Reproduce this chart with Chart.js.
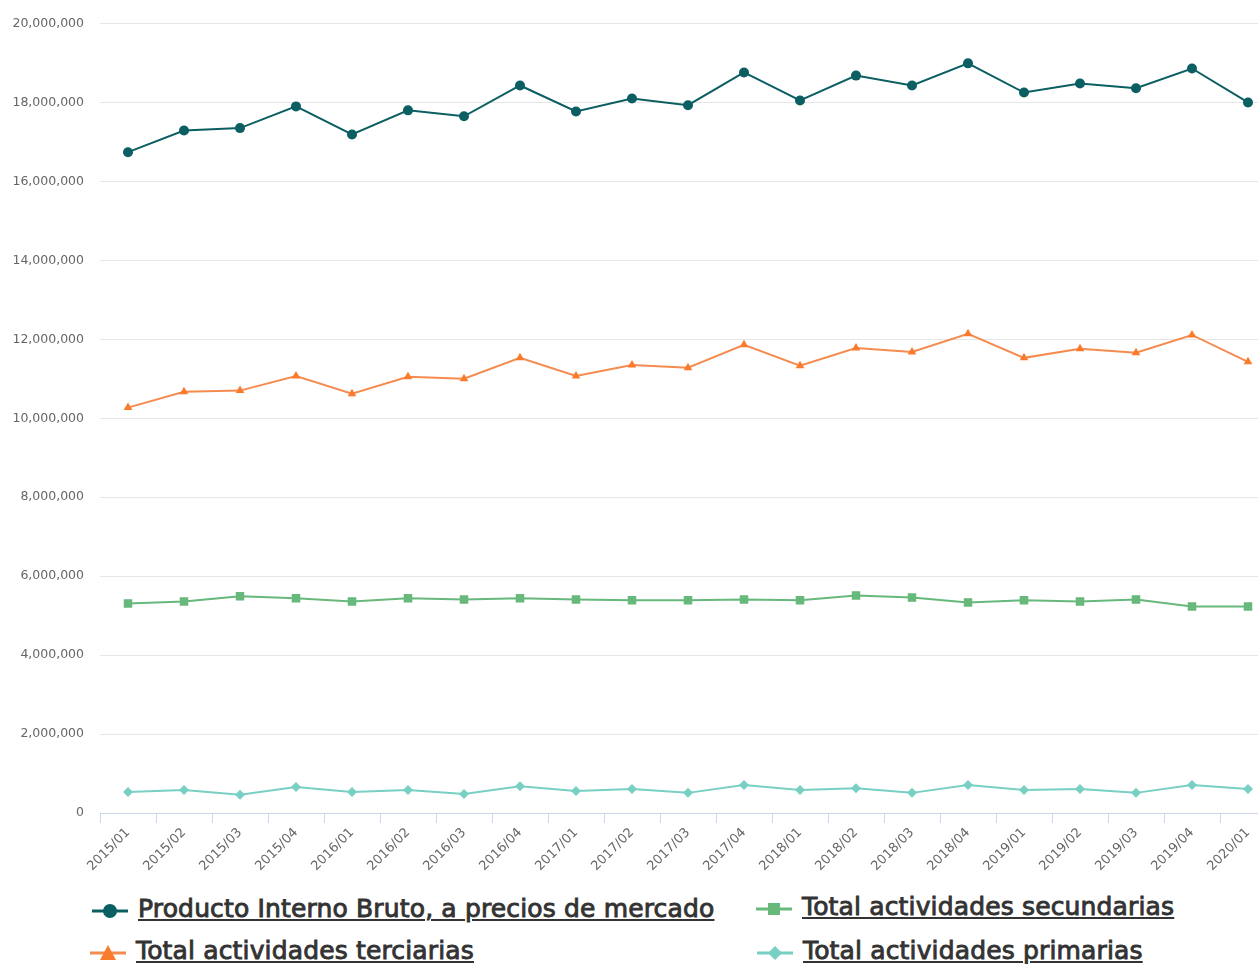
<!DOCTYPE html>
<html>
<head>
<meta charset="utf-8">
<script src="https://cdn.jsdelivr.net/npm/chart.js@4.4.1/dist/chart.umd.min.js"></script>
<style>
  html, body { margin: 0; padding: 0; background: #fff; overflow: hidden; }
  #wrap { position: relative; width: 1258px; height: 964px; overflow: hidden; }
  #box { position: absolute; left: 0; top: 0; width: 1290px; height: 880px; }
  .item { position: absolute; font-family: "DejaVu Sans", sans-serif; font-weight: normal;
          -webkit-text-stroke: 0.9px #333; letter-spacing: 0.15px;
          font-size: 25px; color: #333; text-decoration: underline; white-space: nowrap; line-height: 28px; }
  .icon { position: absolute; }
</style>
</head>
<body>
<div id="wrap">
  <div id="box"><canvas id="chart" width="1290" height="880"></canvas></div>
  <div id="legend"></div>
</div>
<script>
// Data
const categories = ['2015/01', '2015/02', '2015/03', '2015/04', '2016/01', '2016/02', '2016/03', '2016/04',
  '2017/01', '2017/02', '2017/03', '2017/04', '2018/01', '2018/02', '2018/03', '2018/04',
  '2019/01', '2019/02', '2019/03', '2019/04', '2020/01'];

const pib = [16740000, 17290000, 17350000, 17900000, 17190000, 17800000, 17650000, 18430000,
  17770000, 18100000, 17930000, 18760000, 18050000, 18680000, 18430000, 18990000,
  18250000, 18480000, 18360000, 18860000, 18000000];

const secundarias = [5310000, 5360000, 5490000, 5440000, 5360000, 5440000, 5410000, 5440000,
  5410000, 5390000, 5390000, 5410000, 5390000, 5510000, 5460000, 5330000,
  5390000, 5360000, 5410000, 5230000, 5230000];

const terciarias = [10270000, 10670000, 10700000, 11070000, 10620000, 11050000, 11000000, 11530000,
  11070000, 11350000, 11280000, 11860000, 11330000, 11780000, 11680000, 12140000,
  11530000, 11760000, 11660000, 12110000, 11430000];

const primarias = [530000, 580000, 460000, 660000, 530000, 580000, 480000, 680000,
  560000, 610000, 510000, 710000, 580000, 630000, 510000, 710000,
  580000, 610000, 510000, 710000, 610000];

const yTicks = { min: 0, max: 20000000, step: 2000000 };

const seriesInfo = [
  { label: 'Producto Interno Bruto, a precios de mercado', data: pib, color: '#0b5f63', style: 'circle', radius: 5 },
  { label: 'Total actividades secundarias', data: secundarias, color: '#66b97b', style: 'rect', radius: 6 },
  { label: 'Total actividades terciarias', data: terciarias, color: '#f58b4f', point: '#fb7b2c', style: 'triangle', radius: 5 },
  { label: 'Total actividades primarias', data: primarias, color: '#78cfc3', style: 'rectRot', radius: 5 }
];

const axisFont = { family: '"DejaVu Sans", sans-serif', size: 12.5 };

const ctx = document.getElementById('chart').getContext('2d');
const chart = new Chart(ctx, {
  type: 'line',
  data: {
    labels: categories,
    datasets: seriesInfo.map(s => ({
      label: s.label,
      data: s.data,
      borderColor: s.color,
      backgroundColor: s.point || s.color,
      pointBorderColor: s.point || s.color,
      pointBackgroundColor: s.point || s.color,
      pointStyle: s.style,
      pointRadius: s.radius,
      pointBorderWidth: 0,
      borderWidth: 2,
      tension: 0,
      fill: false
    }))
  },
  options: {
    responsive: false,
    animation: false,
    layout: { padding: { top: 13, right: 14, left: 0, bottom: 0 } },
    plugins: {
      legend: { display: false },
      tooltip: { enabled: false }
    },
    scales: {
      x: {
        offset: true,
        grid: { display: true, offset: true, drawOnChartArea: false, color: '#ccd6eb', tickLength: 10, lineWidth: 1 },
        border: { display: true, color: '#ccd6eb', width: 1 },
        ticks: { color: '#666', font: { family: '"DejaVu Sans", sans-serif', size: 13 }, minRotation: 45, maxRotation: 45, autoSkip: false, padding: 2 },
        afterFit: scale => { scale.height = 67; }
      },
      y: {
        min: yTicks.min,
        max: yTicks.max,
        grid: { color: '#e6e6e6', drawTicks: false, lineWidth: 1 },
        border: { display: false },
        ticks: {
          stepSize: yTicks.step,
          color: '#666',
          font: axisFont,
          padding: 16,
          callback: v => v.toLocaleString('en-US')
        },
        afterFit: scale => { scale.width = 100; }
      }
    }
  }
});

// Legend below the chart
const legendPos = [
  { x: 92, y: 897 },
  { x: 756, y: 895 },
  { x: 90, y: 939 },
  { x: 757, y: 939 }
];

function iconSvg(s) {
  const c = s.point || s.color;
  let mark = '';
  if (s.style === 'circle') mark = `<circle cx="18" cy="14" r="7" fill="${c}"/>`;
  if (s.style === 'rect') mark = `<rect x="12" y="8" width="12" height="12" fill="${c}"/>`;
  if (s.style === 'triangle') mark = `<polygon points="18,6 26,21 10,21" fill="${c}"/>`;
  if (s.style === 'rectRot') mark = `<polygon points="18,7 25,14 18,21 11,14" fill="${c}"/>`;
  return `<svg width="36" height="28"><line x1="0" y1="14" x2="36" y2="14" stroke="${s.color}" stroke-width="3"/>${mark}</svg>`;
}

const legendEl = document.getElementById('legend');
seriesInfo.forEach((s, i) => {
  const p = legendPos[i];
  const icon = document.createElement('div');
  icon.className = 'icon';
  icon.style.left = p.x + 'px';
  icon.style.top = p.y + 'px';
  icon.innerHTML = iconSvg(s);
  legendEl.appendChild(icon);

  const item = document.createElement('div');
  item.className = 'item';
  item.style.left = (p.x + 46) + 'px';
  item.style.top = (p.y - 2) + 'px';
  item.textContent = s.label;
  legendEl.appendChild(item);
});
</script>
</body>
</html>
